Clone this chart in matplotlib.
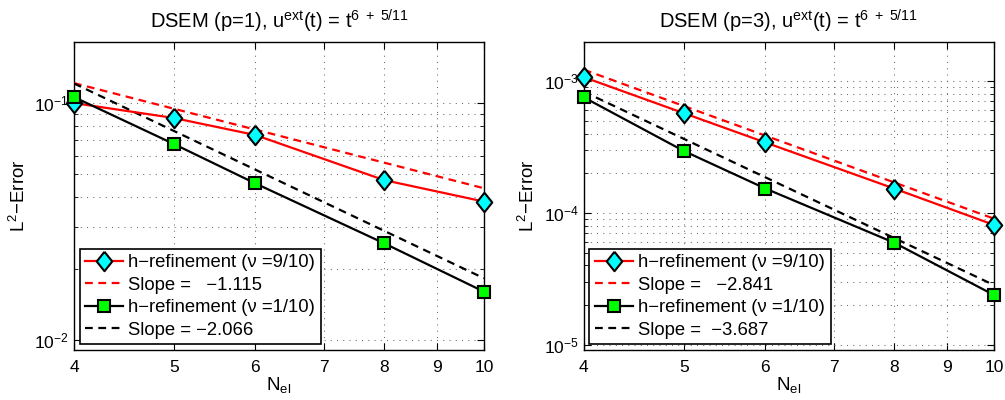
import matplotlib
matplotlib.use('Agg')
import matplotlib.pyplot as plt
import numpy as np
from matplotlib.ticker import FixedLocator, NullLocator, FixedFormatter, LogLocator

plt.rcParams['font.family'] = ['Liberation Sans', 'DejaVu Sans']
plt.rcParams['mathtext.default'] = 'regular'

# number of elements
n_el = [4, 5, 6, 8, 10]

# p=1 errors
err_p1_nu9 = [0.100, 0.0865, 0.0733, 0.0473, 0.0384]
err_p1_nu1 = [0.106, 0.0672, 0.0458, 0.0256, 0.0160]
slope_p1_nu9 = -1.115
slope_p1_nu1 = -2.066
c_p1_nu9 = 0.1214   # reference line value at N_el=4
c_p1_nu1 = 0.1210

# p=3 errors
err_p3_nu9 = [1.07e-3, 5.71e-4, 3.42e-4, 1.53e-4, 8.1e-5]
err_p3_nu1 = [7.52e-4, 2.95e-4, 1.53e-4, 5.94e-5, 2.38e-5]
slope_p3_nu9 = -2.841
slope_p3_nu1 = -3.687
c_p3_nu9 = 1.22e-3
c_p3_nu1 = 8.3e-4

panels = [
    dict(p=1, nu9=err_p1_nu9, nu1=err_p1_nu1, s9=slope_p1_nu9, s1=slope_p1_nu1,
         c9=c_p1_nu9, c1=c_p1_nu1, ylim=(0.00908, 0.181), decades=[-2, -1],
         lab9='Slope =   %.3f', lab1='Slope = %.3f'),
    dict(p=3, nu9=err_p3_nu9, nu1=err_p3_nu1, s9=slope_p3_nu9, s1=slope_p3_nu1,
         c9=c_p3_nu9, c1=c_p3_nu1, ylim=(9.1e-6, 1.98e-3), decades=[-5, -4, -3],
         lab9='Slope =   %.3f', lab1='Slope =  %.3f'),
]

# diamond a bit narrower than tall
diamond = [(0, 1), (0.8, 0), (0, -1), (-0.8, 0), (0, 1)]
dash = (3.5, 2.5)

fig = plt.figure(figsize=(10.05, 4.0), dpi=100)
positions = [[0.0736, 0.125, 0.408, 0.77], [0.581, 0.125, 0.408, 0.77]]

for pos, d in zip(positions, panels):
    ax = fig.add_axes(pos)
    x = np.array(n_el, dtype=float)
    ax.plot(x, d['nu9'], '-', color='red', lw=1.6, marker=diamond, markersize=14,
            markerfacecolor='cyan', markeredgecolor='black', markeredgewidth=1.5,
            label='h\u2212refinement (\u03bd =9/10)', zorder=4, clip_on=False)
    ax.plot(x, d['c9'] * (x / 4.0) ** d['s9'], '--', color='red', lw=1.6, dashes=dash,
            label=(d['lab9'] % d['s9']).replace('-', '\u2212'), zorder=3)
    ax.plot(x, d['nu1'], '-', color='black', lw=1.6, marker='s', markersize=8,
            markerfacecolor='#00ff00', markeredgecolor='black', markeredgewidth=1.5,
            label='h\u2212refinement (\u03bd =1/10)', zorder=4, clip_on=False)
    ax.plot(x, d['c1'] * (x / 4.0) ** d['s1'], '--', color='black', lw=1.6, dashes=dash,
            label=(d['lab1'] % d['s1']).replace('-', '\u2212'), zorder=3)

    ax.set_xscale('log')
    ax.set_yscale('log')
    ax.set_xlim(4, 10)
    ax.set_ylim(*d['ylim'])

    xt = [4, 5, 6, 7, 8, 9, 10]
    ax.xaxis.set_major_locator(FixedLocator(xt))
    ax.xaxis.set_major_formatter(FixedFormatter([str(v) for v in xt]))
    ax.xaxis.set_minor_locator(NullLocator())
    ax.yaxis.set_major_locator(FixedLocator([10.0 ** k for k in d['decades']]))
    ax.yaxis.set_major_formatter(FixedFormatter(['$10^{%d}$' % k for k in d['decades']]))
    ax.yaxis.set_minor_locator(LogLocator(base=10, subs=np.arange(2, 10), numticks=20))

    ax.tick_params(which='both', direction='in', top=True, right=True, labelsize=12.5)
    ax.tick_params(which='major', length=5, width=0.8)
    ax.tick_params(which='minor', length=3, width=0.6)
    ax.tick_params(axis='x', pad=7)
    ax.grid(True, which='major', color='#6a6a6a', lw=0.75, dashes=(1, 5))
    ax.grid(True, which='minor', axis='y', color='#6a6a6a', lw=0.75, dashes=(1, 5))
    for sp in ax.spines.values():
        sp.set_linewidth(1.0)

    ax.set_title('DSEM (p=%d), u$^{ext}$(t) = t$^{6\\;+\\;5/11}$' % d['p'], fontsize=14.5, pad=10)
    ax.set_xlabel('N$_{el}$', fontsize=13.5, labelpad=0)
    ax.set_ylabel('L$^{2}$\u2212Error', fontsize=13.5)

    leg = ax.legend(loc='lower left', fontsize=13.3, handlelength=2.05, borderaxespad=0.3,
                    fancybox=False, edgecolor='black', framealpha=1, labelspacing=0.3,
                    borderpad=0.3, handletextpad=0.3)
    leg.get_frame().set_linewidth(1.2)

fig.savefig('out.png', dpi=100)
